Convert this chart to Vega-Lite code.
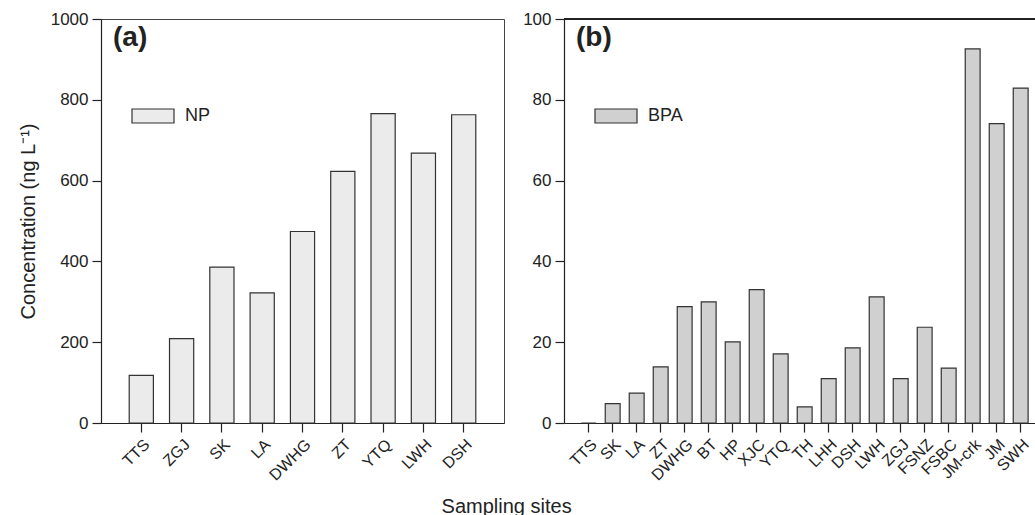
{
  "$schema": "https://vega.github.io/schema/vega-lite/v6.json",
  "padding": {"left": 17, "top": 9, "right": 0, "bottom": 0},
  "background": "white",
  "config": {
    "font": "Liberation Sans",
    "view": {"stroke": "#444", "strokeWidth": 1},
    "axis": {"domainColor": "#222", "tickColor": "#222", "labelColor": "#222", "titleColor": "#222", "grid": false, "tickSize": 9, "labelFontSize": 17, "labelFont": "Liberation Sans", "titleFont": "Liberation Sans", "titleFontWeight": "normal", "titleFontSize": 20, "domainWidth": 1.2, "tickWidth": 1.2, "labelPadding": 4},
    "legend": {"labelFont": "Liberation Sans", "labelFontSize": 18, "labelColor": "#222"},
    "concat": {"spacing": 17}
  },
  "title": {"text": "Sampling sites", "orient": "bottom", "anchor": "middle", "fontSize": 20, "fontWeight": "normal", "color": "#222", "offset": 13, "dx": -22, "font": "Liberation Sans"},
  "resolve": {"scale": {"fill": "independent"}, "legend": {"fill": "independent"}},
  "hconcat": [
    {
      "width": 403,
      "height": 404,
      "data": {"values": [
        {"site": "TTS", "value": 118, "compound": "NP"},
        {"site": "ZGJ", "value": 209, "compound": "NP"},
        {"site": "SK", "value": 386, "compound": "NP"},
        {"site": "LA", "value": 322, "compound": "NP"},
        {"site": "DWHG", "value": 474, "compound": "NP"},
        {"site": "ZT", "value": 623, "compound": "NP"},
        {"site": "YTQ", "value": 766, "compound": "NP"},
        {"site": "LWH", "value": 668, "compound": "NP"},
        {"site": "DSH", "value": 763, "compound": "NP"}
      ]},
      "title": {"text": "(a)", "anchor": "start", "frame": "group", "fontSize": 28, "fontWeight": "bold", "color": "#222", "dx": 12, "offset": -42, "font": "Liberation Sans"},
      "mark": {"type": "bar", "stroke": "#333", "strokeWidth": 1.2},
      "encoding": {
        "x": {"field": "site", "type": "nominal", "sort": null, "scale": {"paddingInner": 0.4, "paddingOuter": 0.7}, "axis": {"title": null, "labelAngle": -45, "labelFontSize": 16}},
        "y": {"field": "value", "type": "quantitative", "scale": {"domain": [0, 1000]}, "axis": {"title": "Concentration (ng L⁻¹)", "values": [0, 200, 400, 600, 800, 1000], "format": "d", "titlePadding": 12}},
        "fill": {"field": "compound", "type": "nominal", "scale": {"range": ["#ebebeb"]}, "legend": {"title": null, "orient": "none", "legendX": 30, "legendY": 75, "symbolType": "M-1,-0.333H1V0.333H-1Z", "symbolSize": 1764, "symbolStrokeColor": "#333", "symbolStrokeWidth": 1.2, "labelOffset": 10}}
      }
    },
    {
      "width": 475,
      "height": 404,
      "view": {"stroke": null},
      "data": {"values": [
        {"site": "TTS", "value": 0, "compound": "BPA"},
        {"site": "SK", "value": 4.8, "compound": "BPA"},
        {"site": "LA", "value": 7.4, "compound": "BPA"},
        {"site": "ZT", "value": 13.9, "compound": "BPA"},
        {"site": "DWHG", "value": 28.8, "compound": "BPA"},
        {"site": "BT", "value": 30.0, "compound": "BPA"},
        {"site": "HP", "value": 20.1, "compound": "BPA"},
        {"site": "XJC", "value": 33.0, "compound": "BPA"},
        {"site": "YTQ", "value": 17.1, "compound": "BPA"},
        {"site": "TH", "value": 4.0, "compound": "BPA"},
        {"site": "LHH", "value": 11.0, "compound": "BPA"},
        {"site": "DSH", "value": 18.6, "compound": "BPA"},
        {"site": "LWH", "value": 31.2, "compound": "BPA"},
        {"site": "ZGJ", "value": 11.0, "compound": "BPA"},
        {"site": "FSNZ", "value": 23.7, "compound": "BPA"},
        {"site": "FSBC", "value": 13.6, "compound": "BPA"},
        {"site": "JM-crk", "value": 92.6, "compound": "BPA"},
        {"site": "JM", "value": 74.1, "compound": "BPA"},
        {"site": "SWH", "value": 82.9, "compound": "BPA"}
      ]},
      "title": {"text": "(b)", "anchor": "start", "frame": "group", "fontSize": 28, "fontWeight": "bold", "color": "#222", "dx": 12, "offset": -42, "font": "Liberation Sans"},
      "layer": [
        {
          "mark": {"type": "bar", "stroke": "#333", "strokeWidth": 1.2},
          "encoding": {
            "x": {"field": "site", "type": "nominal", "sort": null, "scale": {"paddingInner": 0.38, "paddingOuter": 0.586, "align": 0.613}, "axis": {"title": null, "labelAngle": -45, "labelFontSize": 16}},
            "y": {"field": "value", "type": "quantitative", "scale": {"domain": [0, 100]}, "axis": {"title": null, "values": [0, 20, 40, 60, 80, 100]}},
            "fill": {"field": "compound", "type": "nominal", "scale": {"range": ["#d0d0d0"]}, "legend": {"title": null, "orient": "none", "legendX": 30, "legendY": 75, "symbolType": "M-1,-0.333H1V0.333H-1Z", "symbolSize": 1764, "symbolStrokeColor": "#333", "symbolStrokeWidth": 1.2, "labelOffset": 10}}
          }
        },
        {
          "mark": {"type": "rule", "color": "#222", "strokeWidth": 1.2},
          "encoding": {"y": {"datum": 100}}
        }
      ]
    }
  ]
}
